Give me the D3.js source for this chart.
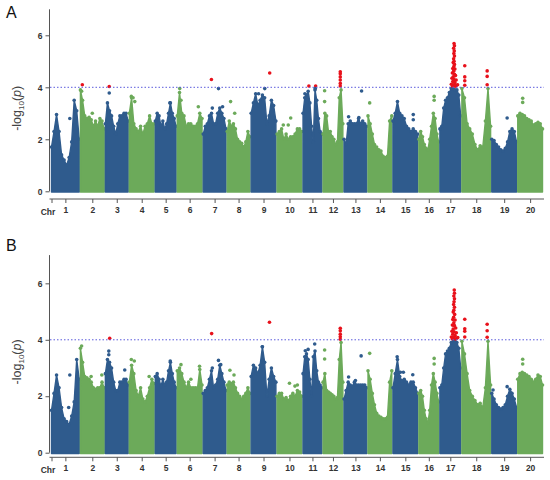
<!DOCTYPE html>
<html>
<head>
<meta charset="utf-8">
<script src="https://cdn.jsdelivr.net/npm/d3@7"></script>
<style>
  body { margin: 0; background: #fff; }
  text { font-family: "Liberation Sans", Arial, sans-serif; }
</style>
</head>
<body>
<svg id="chart" width="550" height="480"></svg>
<script>
// chromosome names and (relative) lengths
var chrNames = ["1","2","3","4","5","6","7","8","9","10","11","12","13","14","15","16","17","18","19","20"];
var chrLen = [28,24,23,25,21,25,23,23,25,25,19,20,23,24,25,20,21,29,25,25];
var yTicks = [0, 2, 4, 6];
var threshold = 4;

// upper envelope of -log10(p) along each chromosome (evenly spaced), panel A
var profA = [
  [1.7, 2.3, 2.95, 2.3, 1.4, 1.2, 1.0, 1.3, 1.9, 3.5, 3.1, 2.0],
  [3.9, 3.5, 2.9, 2.8, 2.85, 2.75, 2.5, 2.7, 2.5, 2.8, 2.7, 2.4],
  [2.6, 3.4, 3.1, 2.9, 2.5, 2.2, 2.6, 2.9, 2.9, 3.0, 3.0, 2.7],
  [3.0, 3.6, 2.6, 2.4, 2.3, 2.5, 2.2, 2.5, 2.6, 2.9, 2.6, 2.6],
  [2.7, 3.0, 2.9, 2.5, 2.7, 2.4, 2.6, 3.0, 3.4, 3.0, 2.8, 2.5],
  [2.9, 3.8, 3.0, 2.9, 2.5, 2.6, 2.6, 2.5, 2.5, 2.6, 3.0, 2.8],
  [2.2, 2.5, 2.6, 2.9, 3.0, 2.6, 2.6, 3.0, 3.2, 3.0, 2.8, 2.4],
  [2.3, 2.7, 2.5, 2.6, 2.4, 2.0, 1.9, 1.85, 1.7, 1.9, 2.3, 2.1],
  [3.0, 3.4, 3.75, 3.3, 3.5, 3.7, 3.6, 2.6, 2.9, 3.5, 3.3, 2.7],
  [2.2, 2.3, 2.4, 2.0, 2.2, 2.0, 2.1, 2.1, 2.2, 2.4, 2.4, 2.3],
  [3.0, 3.6, 3.7, 3.85, 3.4, 2.5, 1.9, 3.9, 3.5, 2.8, 2.3, 2.2],
  [2.2, 3.0, 2.9, 2.3, 2.3, 2.1, 2.0, 1.8, 1.9, 3.6, 3.9, 2.6],
  [2.0, 1.8, 2.6, 2.7, 2.6, 2.6, 2.6, 2.8, 2.6, 2.7, 2.6, 2.5],
  [2.9, 2.6, 2.2, 1.8, 1.7, 1.6, 1.55, 1.35, 1.3, 1.35, 2.7, 2.9],
  [2.7, 3.0, 3.45, 3.0, 2.9, 2.8, 2.5, 2.4, 2.3, 2.4, 2.3, 2.2],
  [2.0, 2.3, 2.1, 1.8, 1.65, 1.6, 2.0, 2.5, 3.0, 2.8, 2.2, 1.9],
  [2.4, 2.5, 3.2, 3.5, 3.6, 3.8, 3.95, 3.95, 3.9, 3.9, 3.7, 2.9],
  [3.95, 3.6, 2.6, 2.4, 2.2, 1.8, 1.6, 1.75, 1.7, 2.7, 3.95, 2.5],
  [2.0, 1.95, 1.8, 1.7, 1.6, 1.55, 1.65, 1.9, 2.3, 2.4, 2.3, 1.9],
  [2.9, 3.0, 2.95, 2.9, 2.8, 2.75, 2.7, 2.55, 2.6, 2.65, 2.6, 2.4]
];

// panel B
var profB = [
  [1.5, 2.1, 2.75, 2.3, 1.6, 1.2, 1.1, 1.0, 1.3, 1.8, 3.3, 2.6],
  [3.7, 3.2, 2.7, 2.65, 2.6, 2.5, 2.3, 2.25, 2.3, 2.3, 2.5, 2.3],
  [2.8, 3.3, 3.2, 3.0, 2.5, 2.2, 2.2, 2.5, 2.5, 2.6, 2.6, 2.4],
  [2.5, 3.1, 2.8, 2.2, 2.0, 2.3, 1.9, 1.8, 2.0, 2.3, 2.6, 2.45],
  [2.7, 2.8, 2.6, 2.35, 2.6, 2.4, 2.5, 2.9, 3.2, 2.8, 2.5, 2.3],
  [2.9, 3.0, 2.8, 2.5, 2.3, 2.5, 2.3, 2.3, 2.3, 2.3, 2.95, 2.4],
  [2.1, 2.2, 2.3, 2.6, 2.9, 2.3, 2.4, 2.6, 3.1, 2.8, 2.5, 2.2],
  [2.4, 2.5, 2.45, 2.5, 2.3, 2.1, 2.0, 1.9, 2.0, 2.1, 2.3, 2.1],
  [2.7, 3.1, 3.0, 2.8, 3.1, 3.75, 3.2, 2.0, 2.6, 3.0, 2.7, 2.5],
  [2.0, 2.1, 2.1, 1.9, 1.95, 1.85, 2.0, 2.1, 2.0, 2.2, 2.15, 2.0],
  [2.8, 3.4, 3.5, 3.3, 2.6, 2.0, 3.4, 3.6, 2.9, 2.5, 2.4, 2.3],
  [2.5, 2.8, 2.2, 2.15, 2.1, 2.05, 2.0, 1.9, 1.95, 3.3, 3.9, 2.5],
  [1.9, 2.2, 2.5, 2.4, 2.35, 2.5, 2.4, 2.4, 2.4, 2.4, 2.4, 2.3],
  [2.9, 2.6, 2.1, 1.7, 1.4, 1.3, 1.25, 1.2, 1.2, 1.25, 2.5, 2.9],
  [2.3, 2.8, 3.3, 2.7, 2.55, 2.6, 2.5, 2.4, 2.5, 2.5, 2.3, 2.1],
  [2.1, 2.2, 2.0, 1.5, 1.2, 1.05, 1.5, 2.4, 2.8, 2.5, 2.1, 1.8],
  [2.3, 2.4, 3.0, 3.5, 3.6, 3.7, 3.9, 3.95, 3.95, 3.9, 3.7, 3.0],
  [3.95, 3.5, 2.8, 2.2, 2.0, 1.85, 1.7, 1.75, 1.6, 2.3, 3.95, 2.4],
  [2.1, 1.9, 1.7, 1.6, 1.55, 1.6, 1.7, 2.0, 2.25, 2.1, 1.9, 1.6],
  [2.6, 2.8, 2.85, 2.8, 2.75, 2.7, 2.6, 2.5, 2.6, 2.75, 2.7, 2.4]
];

// single SNPs standing out of the envelope: [chr, position within chr (0-1), -log10 p]
var outA = [
  [1,0.66,2.8],[2,0.08,4.1],[2,0.05,3.85],[2,0.5,3.0],[3,0.17,4.03],[3,0.17,3.78],
  [4,0.08,3.65],[4,0.15,3.6],[4,0.22,3.45],[5,0.7,3.4],[6,0.1,3.95],[6,0.15,3.5],[6,0.85,3.25],
  [7,0.36,4.3],[7,0.67,3.95],[7,0.4,3.2],[7,0.85,3.25],[8,0.15,3.45],[8,0.33,3.0],
  [9,0.3,3.75],[9,0.55,3.95],[9,0.75,4.55],[10,0.25,2.55],[10,0.45,2.55],[10,0.55,2.82],
  [11,0.31,4.05],[11,0.67,4.05],[11,0.1,3.75],[11,0.65,3.95],
  [12,0.08,3.87],[12,0.08,3.45],[12,0.87,4.6],[12,0.87,4.52],[12,0.87,4.4],[12,0.87,4.28],[12,0.87,4.15],[12,0.87,4.05],
  [13,0.2,2.87],[13,0.65,2.84],[13,0.77,3.86],[14,0.07,3.4],[15,0.82,2.95],[15,0.82,2.75],
  [16,0.77,3.65],[16,0.77,3.5],
  [17,0.68,5.68],[17,0.7,5.6],[17,0.66,5.5],[17,0.69,5.4],[17,0.67,5.3],[17,0.7,5.2],[17,0.66,5.1],
  [17,0.68,5.0],[17,0.64,4.95],[17,0.7,4.88],[17,0.67,4.8],[17,0.62,4.72],[17,0.72,4.7],[17,0.66,4.62],
  [17,0.6,4.55],[17,0.7,4.5],[17,0.75,4.45],[17,0.64,4.4],[17,0.58,4.35],[17,0.68,4.3],[17,0.78,4.28],
  [17,0.62,4.22],[17,0.72,4.18],[17,0.55,4.12],[17,0.66,4.1],[17,0.8,4.08],[17,0.6,4.05],[17,0.74,4.04],[17,0.85,4.1],
  [18,0.1,4.83],[18,0.1,4.4],[18,0.1,4.25],[18,0.1,4.08],[18,0.88,4.63],[18,0.88,4.42],[18,0.88,4.1],
  [19,0.62,2.82],[20,0.2,3.58],[20,0.2,3.42]
];

var outB = [
  [1,0.66,2.75],[1,0.62,1.6],[2,0.05,3.78],[2,0.45,2.7],[2,0.9,2.75],
  [3,0.19,4.05],[3,0.15,3.6],[3,0.15,3.47],[3,0.85,2.93],
  [4,0.08,3.3],[4,0.2,3.25],[4,0.8,2.7],[5,0.72,3.25],[6,0.15,3.12],[6,0.55,2.6],[6,0.9,3.06],
  [7,0.37,4.22],[7,0.4,3.0],[7,0.67,3.27],[7,0.77,3.12],[8,0.12,2.92],[8,0.3,2.75],
  [9,0.74,4.62],[9,0.45,3.75],[10,0.5,2.46],[10,0.72,2.36],[10,0.82,2.4],
  [11,0.12,3.61],[11,0.27,3.66],[11,0.62,3.85],
  [12,0.08,3.64],[12,0.08,3.32],[12,0.87,4.41],[12,0.87,4.32],[12,0.87,4.2],[12,0.87,4.11],[12,0.87,4.02],
  [13,0.2,2.68],[13,0.5,2.56],[13,0.75,3.43],[14,0.07,3.52],
  [15,0.17,3.4],[15,0.3,2.85],[15,0.42,2.85],[15,0.8,2.76],[16,0.77,3.34],[16,0.77,3.14],
  [17,0.69,5.76],[17,0.7,5.65],[17,0.67,5.55],[17,0.7,5.45],[17,0.68,5.35],[17,0.66,5.25],[17,0.7,5.15],
  [17,0.67,5.05],[17,0.64,4.98],[17,0.71,4.9],[17,0.66,4.8],[17,0.62,4.72],[17,0.73,4.7],[17,0.67,4.6],
  [17,0.6,4.52],[17,0.7,4.5],[17,0.76,4.42],[17,0.64,4.38],[17,0.58,4.3],[17,0.68,4.28],[17,0.79,4.25],
  [17,0.62,4.2],[17,0.73,4.15],[17,0.55,4.1],[17,0.66,4.08],[17,0.82,4.06],[17,0.6,4.04],[17,0.75,4.03],[17,0.86,4.08],
  [18,0.1,4.73],[18,0.1,4.39],[18,0.1,4.3],[18,0.1,4.1],[18,0.88,4.55],[18,0.88,4.32],[18,0.88,4.09],
  [19,0.62,2.34],[19,0.05,2.22],[20,0.2,3.31],[20,0.2,3.14]
];

var colBlue = "#2f5b8d", colGreen = "#6caa5a", colRed = "#e8111b";
var gap = 1.2;

// cumulative start of each chromosome
var chrStart = [];
var acc = 0;
chrLen.forEach(function(l){ chrStart.push(acc); acc += l + gap; });
var total = acc - gap;

var x = d3.scaleLinear().domain([0, total]).range([51.5, 542.5]);

var svg = d3.select("#chart");

var panels = [
  {label: "A", prof: profA, out: outA, top: 9.3, bottom: 191.3, axisY: 199, labelY: 18},
  {label: "B", prof: profB, out: outB, top: 255.1, bottom: 452.7, axisY: 457.3, labelY: 251}
];

panels.forEach(function(p){
  var y = d3.scaleLinear().domain([0, 7]).range([p.bottom, p.top]);
  var g = svg.append("g");

  // chromosome envelopes
  var area = d3.area()
    .x(function(d){ return x(d.pos); })
    .y0(y(0) + 0.8)
    .y1(function(d){ return y(d.v); });

  p.prof.forEach(function(vals, i){
    var col = i % 2 == 0 ? colBlue : colGreen;
    var pts = vals.map(function(v, j){
      return {pos: chrStart[i] + chrLen[i] * j / (vals.length - 1), v: v};
    });
    g.append("path")
      .datum(pts)
      .attr("d", area)
      .attr("fill", col)
      .attr("stroke", col)
      .attr("stroke-width", 1.4)
      .attr("stroke-linejoin", "round");
    g.selectAll(null)
      .data(pts)
      .enter().append("circle")
      .attr("cx", function(d){ return x(d.pos); })
      .attr("cy", function(d){ return y(d.v); })
      .attr("r", 1.8)
      .attr("fill", col);
  });

  // single points, red above threshold
  g.selectAll(null)
    .data(p.out)
    .enter().append("circle")
    .attr("cx", function(d){ return x(chrStart[d[0]-1] + chrLen[d[0]-1] * d[1]); })
    .attr("cy", function(d){ return y(d[2]); })
    .attr("r", 1.8)
    .attr("fill", function(d){
      if (d[2] > threshold) return colRed;
      return (d[0]-1) % 2 == 0 ? colBlue : colGreen;
    });

  // threshold line
  g.append("line")
    .attr("x1", 50).attr("x2", 544)
    .attr("y1", y(threshold)).attr("y2", y(threshold))
    .attr("stroke", "#5b5bdc")
    .attr("stroke-width", 1)
    .attr("stroke-dasharray", "1.5,2");

  // y axis
  var yAxis = d3.axisLeft(y).tickValues(yTicks).tickSize(4).tickPadding(3).tickFormat(d3.format("d"));
  var ya = g.append("g").attr("transform", "translate(49.5,0)").call(yAxis);
  ya.select(".domain").attr("d", "M0," + y(0) + "V" + y(7)).attr("stroke", "#555");
  ya.selectAll(".tick line").attr("stroke", "#555");
  ya.selectAll(".tick text").attr("font-size", 8.5).attr("font-weight", "bold")
    .attr("fill", "#333").attr("font-family", "Liberation Sans, Arial, sans-serif");

  // x axis with chromosome ticks
  var ticks = [0].concat(chrLen.map(function(l, i){ return chrStart[i] + l / 2; }));
  var xAxis = d3.axisBottom(x).tickValues(ticks).tickSize(4).tickPadding(4)
    .tickFormat(function(d, i){ return i == 0 ? "" : chrNames[i-1]; });
  var xa = g.append("g").attr("transform", "translate(0," + p.axisY + ")").call(xAxis);
  xa.select(".domain").attr("d", "M49.5,0H544").attr("stroke", "#555");
  xa.selectAll(".tick line").attr("stroke", "#555");
  xa.selectAll(".tick text").attr("font-size", 8.5).attr("font-weight", "bold")
    .attr("fill", "#333").attr("font-family", "Liberation Sans, Arial, sans-serif");

  g.append("text")
    .attr("x", 48).attr("y", p.axisY + 16)
    .attr("text-anchor", "middle")
    .attr("font-size", 8.5).attr("font-weight", "bold").attr("fill", "#333")
    .text("Chr");

  // y title
  var yt = g.append("text")
    .attr("transform", "translate(21," + ((p.bottom + p.top) / 2 + 8) + ") rotate(-90)")
    .attr("text-anchor", "middle")
    .attr("font-size", 12.5).attr("fill", "#444");
  yt.append("tspan").text("-log");
  yt.append("tspan").attr("font-size", 8).attr("dy", 3).text("10");
  yt.append("tspan").attr("dy", -3).text("(");
  yt.append("tspan").attr("font-style", "italic").text("p");
  yt.append("tspan").text(")");

  // panel letter
  g.append("text")
    .attr("x", 6).attr("y", p.labelY)
    .attr("font-family", "Liberation Serif, Times New Roman, serif")
    .attr("font-size", 16).attr("fill", "#111")
    .text(p.label);
});
</script>
</body>
</html>
